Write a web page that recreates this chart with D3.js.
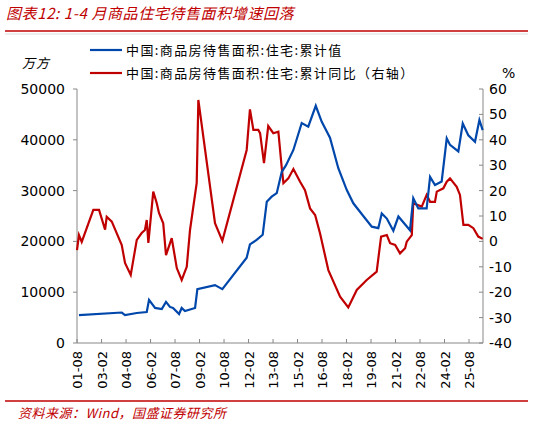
<!DOCTYPE html><html><head><meta charset="utf-8"><script src="https://cdn.jsdelivr.net/npm/d3@7"></script>
<style>body{margin:0;background:#fff}svg{display:block}</style></head><body><svg id="c" width="533" height="426"></svg>
<script>
const blueX=[2001.70,2004.32,2004.52,2005.24,2005.85,2005.99,2006.36,2006.77,2007.03,2007.27,2007.46,2007.83,2007.99,2008.19,2008.81,2008.95,2010.03,2010.48,2011.97,2012.17,2012.58,2012.95,2013.20,2013.50,2013.81,2014.12,2014.38,2014.83,2015.34,2015.74,2016.20,2016.56,2017.07,2017.58,2018.10,2018.50,2019.11,2019.63,2020.03,2020.24,2020.55,2020.95,2021.26,2021.97,2022.17,2022.48,2022.99,2023.20,2023.50,2023.91,2024.22,2024.42,2024.93,2025.20,2025.54,2025.95,2026.22,2026.42];
const blueY=[5500,6000,5500,5900,6100,8500,6900,6700,8100,7100,6900,5700,6900,6300,6900,10600,11400,10600,16800,19400,20300,21300,27800,28800,29500,33700,35000,38000,43300,42600,46700,43600,40400,34400,30100,27500,25000,22900,22600,25500,24500,22100,24900,22200,28500,26500,26500,32700,31100,31800,40300,39000,37700,43200,40900,39600,43900,41900];
const redX=[2001.58,2001.70,2001.87,2002.58,2002.93,2003.30,2003.40,2003.71,2004.32,2004.52,2004.87,2005.24,2005.54,2005.74,2005.85,2005.95,2006.25,2006.46,2006.60,2006.86,2007.03,2007.38,2007.69,2007.99,2008.30,2008.50,2008.91,2009.01,2010.03,2010.48,2011.97,2012.17,2012.38,2012.68,2012.79,2013.03,2013.29,2013.60,2013.91,2014.12,2014.22,2014.52,2014.83,2015.24,2015.54,2015.85,2016.16,2016.46,2016.97,2017.69,2018.19,2018.71,2019.32,2019.93,2020.20,2020.55,2020.75,2021.06,2021.36,2021.67,2021.77,2022.08,2022.17,2022.69,2022.99,2023.20,2023.50,2023.61,2024.01,2024.22,2024.42,2024.83,2025.03,2025.24,2025.54,2025.85,2026.15,2026.42];
const redY=[-3.4,2.5,-0.2,12.4,12.4,4.6,9.7,7.8,-1.4,-8.5,-13.2,0.6,3.3,4.5,8.4,-0.6,19.6,15.1,11.2,7.1,-5.4,1.3,-10.5,-15.2,-10,4.5,23,55.7,7.2,0.2,36,52,43.9,43.9,42.6,30.8,45.4,42.6,43.2,28.8,22.9,24.8,28.5,23.5,20.2,13,10.4,3.2,-11.3,-21.8,-26,-19.1,-15.2,-11.9,1.9,2.5,-0.7,-1.4,-4.7,-2.7,-0.1,2.5,15,13.7,18.3,15.6,15.6,19.6,20.9,23.5,24.8,21.5,18.3,6.5,6.5,5.2,1.9,1];
const tickLabels=["01-08","03-02","04-08","06-02","07-08","09-02","10-08","12-02","13-08","15-02","16-08","18-02","19-08","21-02","22-08","24-02","25-08"];
const tickPos=tickLabels.map(s=>{const [y,m]=s.split("-");return 2000+ +y+(+m-1)/12;});
const leftTicks=[0,10000,20000,30000,40000,50000];
const rightTicks=[-40,-30,-20,-10,0,10,20,30,40,50,60];
const legend=["中国:商品房待售面积:住宅:累计值","中国:商品房待售面积:住宅:累计同比（右轴）"];
const svg=d3.select("#c");
const L=77,R=483,T=89,B=343;
const x=d3.scaleLinear().domain([2001.58,2026.44]).range([L,R]);
const yl=d3.scaleLinear().domain([0,50000]).range([B,T]);
const yr=d3.scaleLinear().domain([-40,60]).range([B,T]);
const red="#c00000",blue="#0047ab",font="DejaVu Sans, Verdana, sans-serif",cjk="Noto Sans CJK SC";
svg.append("text").attr("x",6).attr("y",19).attr("fill",red).attr("font-family",cjk).attr("font-style","italic").attr("font-size",15).attr("letter-spacing",0.6).text("图表12:  1-4 月商品住宅待售面积增速回落");
svg.append("line").attr("x1",5).attr("x2",528).attr("y1",31).attr("y2",31).attr("stroke",red).attr("stroke-width",1.5);
svg.append("line").attr("x1",5).attr("x2",528).attr("y1",34).attr("y2",34).attr("stroke","#ddd").attr("stroke-width",1);
const ax=svg.append("g").attr("stroke","#888").attr("fill","none");
ax.append("path").attr("d",`M${L},${T}V${B}H${R}V${T}`);
leftTicks.forEach(v=>ax.append("line").attr("x1",L-4).attr("x2",L).attr("y1",yl(v)).attr("y2",yl(v)));
rightTicks.forEach(v=>ax.append("line").attr("x1",R-4).attr("x2",R).attr("y1",yr(v)).attr("y2",yr(v)));
tickPos.forEach(v=>ax.append("line").attr("x1",x(v)).attr("x2",x(v)).attr("y1",B).attr("y2",B-4));
leftTicks.forEach(v=>svg.append("text").attr("x",L-12).attr("y",yl(v)+5).attr("text-anchor","end").attr("font-family",font).attr("font-size",14).text(v));
rightTicks.forEach(v=>svg.append("text").attr("x",R+6).attr("y",yr(v)+5).attr("font-family",font).attr("font-size",14).text(v));
tickLabels.forEach((s,i)=>svg.append("text").attr("transform",`translate(${x(tickPos[i])+5},${B+8}) rotate(-90)`).attr("text-anchor","end").attr("font-family",font).attr("font-size",13).text(s));
const lr=d3.line().x(d=>x(d[0])).y(d=>yr(d[1]));
const lb=d3.line().x(d=>x(d[0])).y(d=>yl(d[1]));
svg.append("path").attr("d",lr(redX.map((v,i)=>[v,redY[i]]))).attr("fill","none").attr("stroke",red).attr("stroke-width",2.2);
svg.append("path").attr("d",lb(blueX.map((v,i)=>[v,blueY[i]]))).attr("fill","none").attr("stroke",blue).attr("stroke-width",2.2);
[[blue,50],[red,73]].forEach(([c,yy],i)=>{svg.append("line").attr("x1",90).attr("x2",122).attr("y1",yy).attr("y2",yy).attr("stroke",c).attr("stroke-width",2.2);
svg.append("text").attr("x",126).attr("y",yy+5).attr("font-family",cjk).attr("font-size",13).attr("letter-spacing",1.4).text(legend[i]);});
svg.append("text").attr("x",22).attr("y",68).attr("font-family",cjk).attr("font-style","italic").attr("font-size",13).attr("letter-spacing",1).text("万方");
svg.append("text").attr("x",502).attr("y",78).attr("font-family",font).attr("font-size",14).text("%");
svg.append("line").attr("x1",5).attr("x2",528).attr("y1",401).attr("y2",401).attr("stroke",red).attr("stroke-width",1.5);
svg.append("text").attr("x",18).attr("y",418).attr("fill",red).attr("font-family",cjk).attr("font-style","italic").attr("font-size",13).attr("letter-spacing",0.5).text("资料来源：Wind，国盛证券研究所");
</script></body></html>
